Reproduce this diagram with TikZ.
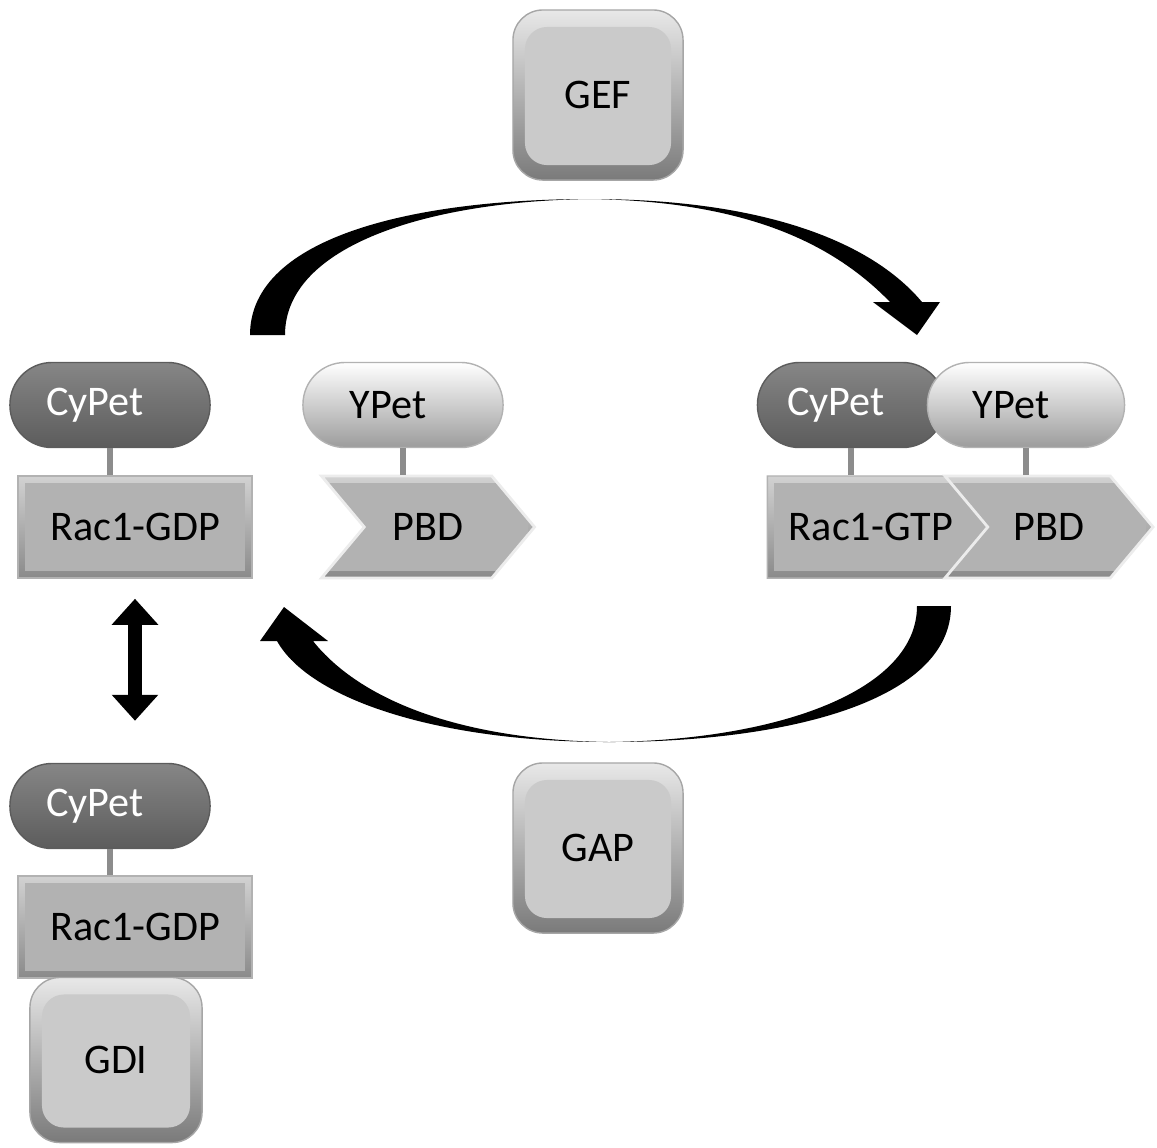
\documentclass[tikz,border=0pt]{standalone}
\usepackage{fontspec}
\setmainfont{Carlito}
\usepackage{tikz}
\usetikzlibrary{arrows.meta}
\usetikzlibrary{shapes.symbols}
\definecolor{keyface}{HTML}{CACACA}
\definecolor{keylight}{HTML}{E8E8E8}
\definecolor{keydark}{HTML}{7A7A7A}
\definecolor{racface}{HTML}{B2B2B2}
\definecolor{raclight}{HTML}{D2D2D2}
\definecolor{racdark}{HTML}{8A8A8A}
\definecolor{cyplight}{HTML}{868686}
\definecolor{cypdark}{HTML}{5C5C5C}
\definecolor{yplight}{HTML}{FFFFFF}
\definecolor{ypdark}{HTML}{9C9C9C}
\definecolor{linkgray}{HTML}{8C8C8C}
\tikzset{
keybox/.style={
  rounded corners=0.3cm,
  minimum width=1.7cm,
  minimum height=1.7cm,
  top color=keylight,
  bottom color=keydark,
  draw=gray!70,
  path picture={\fill[keyface, rounded corners=0.22cm] ([xshift=0.12cm,yshift=-0.17cm]path picture bounding box.north west) rectangle ([xshift=-0.12cm,yshift=0.15cm]path picture bounding box.south east);}
  }
}
\tikzset{
racbox/.style={
  rectangle,
  minimum width=2.34cm,
  minimum height=1.02cm,
  top color=raclight,
  bottom color=racdark,
  draw=gray!60,
  path picture={\fill[racface] ([xshift=0.07cm,yshift=-0.07cm]path picture bounding box.north west) rectangle ([xshift=-0.07cm,yshift=0.07cm]path picture bounding box.south east);}
  },
pbdarrow/.style={
  racbox,
  signal,
  signal from=west,
  signal to=east,
  signal pointer angle=100,
  minimum width=2.13cm,
  draw=gray!15,
  line width=0.8pt
  },
gtparrow/.style={
  racbox,
  signal,
  signal to=east,
  signal pointer angle=100,
  minimum width=2.30cm,
  inner xsep=0pt
  }
}
\tikzset{
pill/.style={
  rounded corners=0.42cm,
  minimum width=2cm,
  minimum height=0.85cm,
  execute at end node=\hspace*{0.3cm}
  },
cypill/.style={
  pill,
  top color=cyplight,
  bottom color=cypdark,
  draw=cypdark,
  text=white
  },
ypill/.style={
  pill,
  top color=yplight,
  middle color=yplight,
  bottom color=ypdark,
  draw=gray!60
  }
}
\tikzstyle{link} = [draw,linkgray,line width=0.06cm]
\tikzstyle{bigarrow} = [fill=black]
\tikzstyle{updown} = [{Triangle[width=0.45cm,length=0.26cm]}-{Triangle[width=0.45cm,length=0.26cm]}, line width=0.14cm]
\tikzset{%
    boundingBox/.style={use as bounding box},
    }
\begin{document}
\begin{tikzpicture}[x=0.01cm, y=-0.01cm, font=\fontsize{12}{14}\selectfont]
	\path[boundingBox] (0,0) rectangle (1157,1147);

	%vertices
	\node (gef) at (598,95) [keybox] {GEF};
	\node (gap) at (598,848) [keybox] {GAP};

	\node (cyp0) at (110,405) [cypill] {CyPet};
	\node (rac0) at (135,527) [racbox] {Rac1-GDP};

	\node (yp0) at (403,405) [ypill] {YPet};
	\node (pbd0) at (428,527) [pbdarrow] {PBD};

	\node (cyp1) at (851,405) [cypill, minimum width=1.87cm] {CyPet};
	\node (yp1) at (1026,405) [ypill, minimum width=1.97cm] {YPet};
	\node (gtp1) at (861,527) [gtparrow] {\hspace*{0.2cm}Rac1-GTP};
	\node (pbd1) at (1049,527) [pbdarrow, minimum width=2.08cm] {PBD};

	\node (cyp2) at (110,806) [cypill] {CyPet};
	\node (rac2) at (135,927) [racbox] {Rac1-GDP};
	\node (gdi2) at (116,1060) [keybox, minimum width=1.72cm, minimum height=1.65cm] {GDI};

	%edges
	\draw[link] (cyp0.south) -- (cyp0.south |- rac0.north);
	\draw[link] (yp0.south) -- (yp0.south |- pbd0.north);
	\draw[link] (cyp1.south) -- (cyp1.south |- gtp1.north);
	\draw[link] (yp1.south) -- (yp1.south |- pbd1.north);
	\draw[link] (cyp2.south) -- (cyp2.south |- rac2.north);

	\draw[updown] ([yshift=-0.2cm]rac0.south) -- ([yshift=0.42cm]rac0.south |- cyp2.north);

	%GEF: GDP to GTP
	\path[bigarrow] (250,335) .. controls (250,235) and (420,199) .. (590,199)
		.. controls (760,199) and (870,240) .. (922,302) -- (940,302) -- (917,335) -- (873,302) -- (890,302)
		.. controls (830,240) and (740,201) .. (590,199)
		.. controls (430,201) and (285,245) .. (285,335) -- cycle;
	%GAP: GTP to GDP
	\path[bigarrow] (951,606) .. controls (951,700) and (790,742) .. (609,742)
		.. controls (440,742) and (310,700) .. (277,641) -- (260,641) -- (284,607) -- (328,641) -- (313,641)
		.. controls (360,700) and (460,740) .. (609,742)
		.. controls (780,740) and (917,690) .. (917,606) -- cycle;
\end{tikzpicture}
\end{document}
